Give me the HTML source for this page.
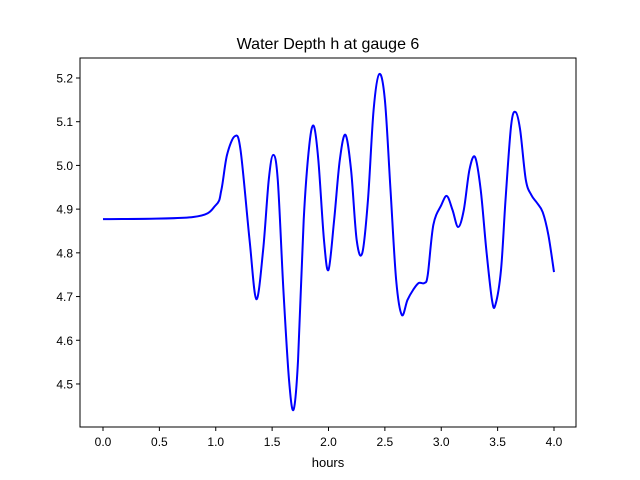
<!DOCTYPE html>
<html><head><meta charset="utf-8"><style>
body{margin:0;background:#fff;}
svg{display:block;font-family:"Liberation Sans","DejaVu Sans",sans-serif;}
</style></head><body>
<svg id="chart" width="640" height="480">
<rect x="0" y="0" width="640" height="480" fill="#fff"/>
<text x="328" y="49" text-anchor="middle" font-size="16">Water Depth h at gauge 6</text>
<g id="ticks"></g>
<path id="line" fill="none" stroke="#0000ff" stroke-width="2"/>
<rect x="80" y="58" width="496" height="369" fill="none" stroke="#000" stroke-width="1"/>
<text x="328" y="467" text-anchor="middle" font-size="13">hours</text>
</svg>
<script>
const hours=[0,0.8,1.0,1.05,1.1,1.17,1.22,1.3,1.36,1.42,1.47,1.51,1.55,1.6,1.65,1.69,1.73,1.78,1.83,1.87,1.91,1.96,2.0,2.05,2.1,2.15,2.2,2.25,2.3,2.35,2.4,2.45,2.5,2.55,2.6,2.65,2.7,2.75,2.8,2.85,2.88,2.93,3.0,3.05,3.1,3.15,3.2,3.25,3.3,3.35,3.4,3.45,3.48,3.53,3.57,3.62,3.66,3.7,3.75,3.8,3.85,3.9,3.95,4.0];
const depth=[4.877,4.882,4.909,4.944,5.024,5.067,5.035,4.829,4.694,4.806,4.967,5.024,4.967,4.715,4.509,4.441,4.555,4.875,5.047,5.090,5.012,4.829,4.761,4.875,5.012,5.070,4.990,4.829,4.800,4.921,5.127,5.209,5.150,4.944,4.738,4.658,4.692,4.715,4.731,4.731,4.749,4.864,4.909,4.930,4.898,4.859,4.898,4.990,5.019,4.944,4.806,4.692,4.681,4.761,4.921,5.092,5.122,5.081,4.967,4.932,4.914,4.893,4.841,4.756];
const xTicks=[0,0.5,1.0,1.5,2.0,2.5,3.0,3.5,4.0];
const yTicks=[4.5,4.6,4.7,4.8,4.9,5.0,5.1,5.2];
const X=v=>103+v*112.75;
const Y=v=>78+(5.2-v)*437.1;
const NS="http://www.w3.org/2000/svg";
const g=document.getElementById('ticks');
function mk(t,a){const e=document.createElementNS(NS,t);for(const k in a)e.setAttribute(k,a[k]);return e;}
xTicks.forEach(v=>{
  const l=mk('line',{x1:X(v),x2:X(v),y1:427,y2:431,stroke:'#000'});
  
  
  g.appendChild(l);
  const t=mk('text',{x:X(v),y:446,'text-anchor':'middle','font-size':'12'});
  
  
  t.textContent=v.toFixed(1);g.appendChild(t);
});
yTicks.forEach(v=>{
  const l=mk('line',{x1:76,x2:80,y1:Y(v),y2:Y(v),stroke:'#000'});
  
  
  g.appendChild(l);
  const t=mk('text',{x:73,y:Y(v)+4.5,'text-anchor':'end','font-size':'12'});
  
  
  t.textContent=v.toFixed(1);g.appendChild(t);
});
// Catmull-Rom smooth path
const P=hours.map((h,i)=>[X(h),Y(depth[i])]);
let d='M'+P[0][0]+','+P[0][1];
for(let i=0;i<P.length-1;i++){
  const p0=P[i-1]||P[i],p1=P[i],p2=P[i+1],p3=P[i+2]||P[i+1];
  const c1=[p1[0]+(p2[0]-p0[0])/6,p1[1]+(p2[1]-p0[1])/6];
  const c2=[p2[0]-(p3[0]-p1[0])/6,p2[1]-(p3[1]-p1[1])/6];
  d+=` C${c1[0]},${c1[1]} ${c2[0]},${c2[1]} ${p2[0]},${p2[1]}`;
}
document.getElementById('line').setAttribute('d',d);
</script>
</body></html>
